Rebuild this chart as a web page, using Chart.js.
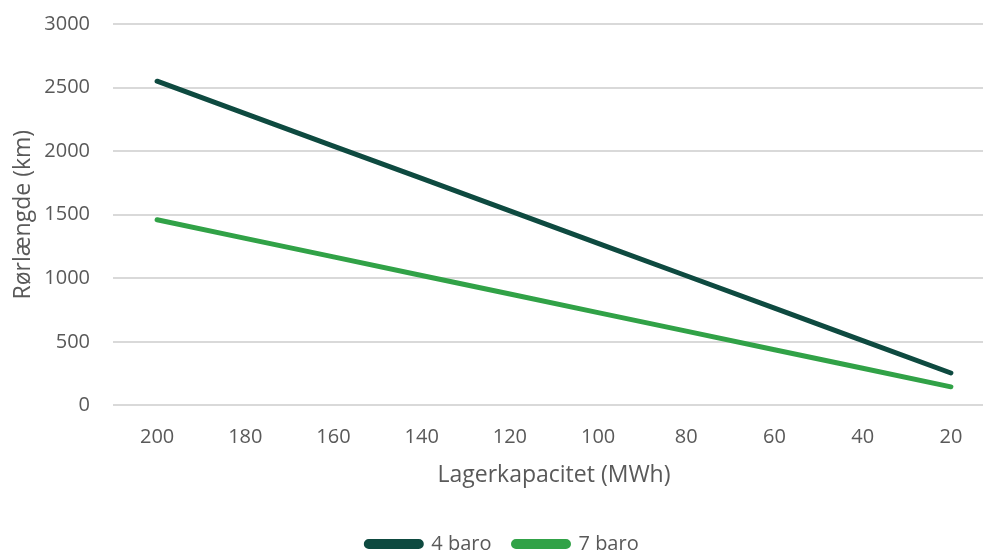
<!DOCTYPE html>
<html>
<head>
<meta charset="utf-8">
<script src="https://cdn.jsdelivr.net/npm/chart.js@4"></script>
<style>
  html, body { margin: 0; padding: 0; background: #fff; overflow: hidden; }
  #wrap { width: 1000px; height: 552px; position: relative; }
</style>
</head>
<body>
<div id="wrap"><canvas id="chart"></canvas></div>
<script>
// Lagerkapacitet (MWh) on the x axis, descending
const capacities = ["200", "180", "160", "140", "120", "100", "80", "60", "40", "20"];

// Rørlængde (km) per pressure
const baro4 = [2550, 2295, 2040, 1785, 1530, 1275, 1020, 765, 510, 255];
const baro7 = [1460, 1314, 1168, 1022, 876, 730, 584, 438, 292, 146];

const yTicks = [0, 500, 1000, 1500, 2000, 2500, 3000];

const textColor = "#595959";
const fontFamily = "'Open Sans', sans-serif";

Chart.defaults.font.family = fontFamily;
Chart.defaults.color = textColor;

let ctx = document.getElementById("chart").getContext("2d");
new Chart(ctx, {
  type: "line",
  data: {
    labels: capacities,
    datasets: [
      {
        label: "4 baro",
        data: baro4,
        borderColor: "#0e4a40",
        backgroundColor: "#0e4a40",
        borderWidth: 5,
        borderCapStyle: "round",
        pointRadius: 0,
        tension: 0
      },
      {
        label: "7 baro",
        data: baro7,
        borderColor: "#31a247",
        backgroundColor: "#31a247",
        borderWidth: 5,
        borderCapStyle: "round",
        pointRadius: 0,
        tension: 0
      }
    ]
  },
  options: {
    responsive: true,
    maintainAspectRatio: false,
    animation: false,
    layout: { padding: { top: 24, right: 5, left: 10, bottom: -12 } },
    plugins: {
      tooltip: { enabled: false },
      legend: {
        position: "bottom",
        labels: {
          boxWidth: 55,
          boxHeight: 5,
          useBorderRadius: true,
          borderRadius: 2.5,
          padding: 22,
          font: { size: 20 },
          color: textColor
        }
      }
    },
    scales: {
      x: {
        offset: true,
        grid: { display: false },
        border: { display: false },
        ticks: { font: { size: 20 }, padding: 12, maxRotation: 0 },
        title: {
          display: true,
          text: "Lagerkapacitet (MWh)",
          font: { size: 23 },
          color: textColor,
          padding: { top: 0, bottom: 23 }
        }
      },
      y: {
        min: 0,
        max: 3000,
        afterBuildTicks: scale => { scale.ticks = yTicks.map(v => ({ value: v })); },
        afterFit: scale => { scale.width = 103; },
        grid: { color: "#d9d9d9", lineWidth: 2, drawTicks: true, tickLength: 20, tickColor: "rgba(0,0,0,0)" },
        border: { display: false },
        ticks: {
          font: { size: 20 },
          padding: 3,
          callback: v => String(v)
        },
        title: {
          display: true,
          text: "Rørlængde (km)",
          font: { size: 23 },
          color: textColor,
          padding: 0
        }
      }
    }
  }
});
</script>
</body>
</html>
